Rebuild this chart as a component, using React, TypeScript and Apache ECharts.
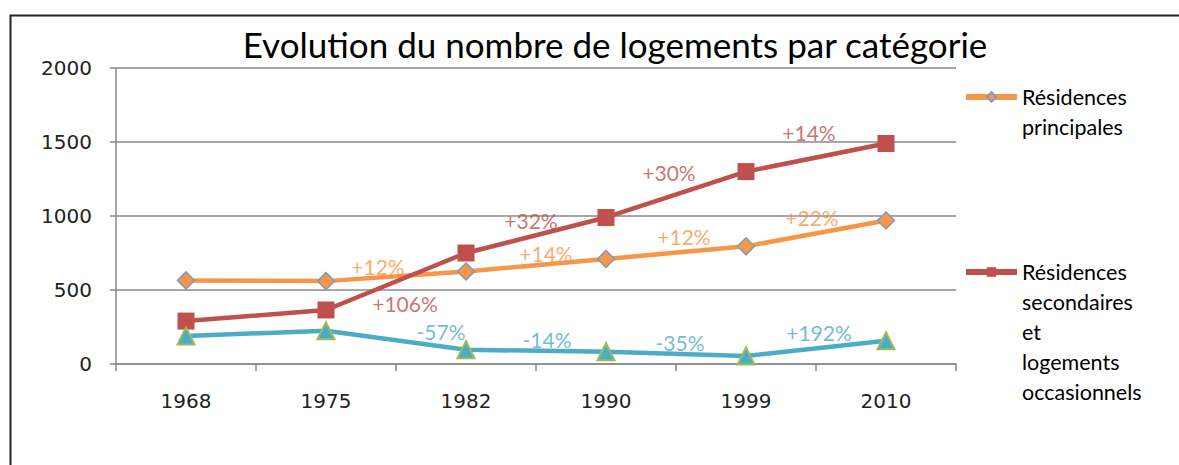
import React, { useEffect, useRef } from "react";
import * as echarts from "echarts";

const years = ["1968", "1975", "1982", "1990", "1999", "2010"];
const principales = [565, 560, 625, 710, 795, 970];
const secondaires = [290, 365, 750, 990, 1300, 1490];
const vacants = [190, 224, 96, 83, 54, 157];
// variation between year i and year i+1 (index 0 : 1968→1975, not shown)
const pctPrincipales = ["", "+12%", "+14%", "+12%", "+22%"];
const pctSecondaires = ["", "+106%", "+32%", "+30%", "+14%"];
const pctVacants = ["", "-57%", "-14%", "-35%", "+192%"];
const yTicks = [0, 500, 1000, 1500, 2000];

const ORANGE = "#F79646";
const RED = "#C0504D";
const BLUE = "#4BACC6";
const GRID = "#8A8A8A";
const FONT = "Lato, 'Open Sans', sans-serif";
const AXFONT = "'DejaVu Sans', sans-serif";

// label offsets (pixels) relative to segment midpoints
const offP = [null, [-18, -10], [10, -12], [8, -16], [-4, -16]];
const offS = [null, [9, 22], [-5, -15], [-7, -22], [-7, -25]];
const offV = [null, [45, -9], [11, -11], [4, -11], [3, -16]];

function labelData(values: number[], pct: string[], off: any[]) {
  const out: any[] = [];
  pct.forEach((t, i) => {
    if (!t) return;
    out.push({
      value: [i + 0.5, (values[i] + values[i + 1]) / 2],
      label: { formatter: t, offset: off[i] },
    });
  });
  return out;
}

function labelSeries(name: string, values: number[], pct: string[], off: any[], color: string) {
  return {
    name,
    type: "scatter",
    xAxisIndex: 1,
    yAxisIndex: 0,
    symbolSize: 0,
    silent: true,
    z: 10,
    label: {
      show: true,
      position: "inside",
      color,
      fontFamily: FONT,
      fontSize: 21,
    },
    data: labelData(values, pct, off),
  };
}

// first line of a multi-line legend text aligned with the icon
function legendText(lines: string[]) {
  return new Array(lines.length - 1).fill("").concat(lines).join("\n");
}

export default function App() {
  const ref = useRef<HTMLDivElement>(null);
  useEffect(() => {
    if (!ref.current) return;
    const chart = echarts.init(ref.current, null, { renderer: "svg" });
    const legendCommon = {
      left: 963,
      orient: "vertical",
      padding: 0,
      itemWidth: 51,
      itemHeight: 12,
      itemGap: 5,
      lineStyle: { width: 6 },
      textStyle: { fontFamily: FONT, fontSize: 21.5, lineHeight: 30, color: "#000" },
    };
    chart.setOption({
      animation: false,
      backgroundColor: "#fff",
      title: {
        text: "Evolution du nombre de logements par catégorie",
        left: 610,
        textAlign: "center",
        top: 21,
        textStyle: { fontFamily: FONT, fontSize: 35, fontWeight: "normal", color: "#000" },
      },
      graphic: [
        {
          type: "rect",
          left: 8,
          top: 13,
          shape: { width: 1300, height: 600 },
          style: { fill: "none", stroke: "#222", lineWidth: 2 },
          silent: true,
        },
      ],
      legend: [
        {
          ...legendCommon,
          data: ["Résidences principales"],
          top: 52,
          formatter: () => legendText(["Résidences", "principales"]),
        },
        {
          ...legendCommon,
          data: ["Résidences secondaires et logements occasionnels"],
          top: 137,
          formatter: () =>
            legendText(["Résidences", "secondaires", "et", "logements", "occasionnels"]),
        },
      ],
      grid: { left: 116, right: 223, top: 68, bottom: 101, containLabel: false },
      xAxis: [
        {
          type: "category",
          data: years,
          boundaryGap: true,
          axisLine: { show: true, lineStyle: { color: GRID, width: 1.5 } },
          axisTick: { show: true, length: 7, lineStyle: { color: GRID, width: 1.5 } },
          axisLabel: { margin: 27, fontFamily: AXFONT, fontSize: 20, color: "#222" },
          splitLine: { show: false },
        },
        {
          type: "value",
          min: -0.5,
          max: 5.5,
          show: false,
        },
      ],
      yAxis: {
        type: "value",
        min: yTicks[0],
        max: yTicks[yTicks.length - 1],
        interval: 500,
        axisLine: { show: true, onZero: false, lineStyle: { color: GRID, width: 1.5 } },
        axisTick: { show: true, length: 6, lineStyle: { color: GRID, width: 1.5 } },
        axisLabel: {
          margin: 24,
          fontFamily: AXFONT,
          fontSize: 20,
          color: "#222",
          formatter: (v: number) => String(v),
        },
        splitLine: { show: true, lineStyle: { color: GRID, width: 1.5 } },
      },
      series: [
        {
          name: "Résidences principales",
          type: "line",
          data: principales,
          lineStyle: { color: ORANGE, width: 4.5 },
          itemStyle: { color: ORANGE, borderColor: "#7F9BBE", borderWidth: 1.5 },
          symbol: "diamond",
          symbolSize: 17,
          z: 2,
        },
        {
          name: "Résidences secondaires et logements occasionnels",
          type: "line",
          data: secondaires,
          lineStyle: { color: RED, width: 4.5 },
          itemStyle: { color: RED },
          symbol: "rect",
          symbolSize: 17,
          z: 3,
        },
        {
          name: "Logements vacants",
          type: "line",
          data: vacants,
          lineStyle: { color: BLUE, width: 4.5 },
          itemStyle: { color: BLUE, borderColor: "#9BBB59", borderWidth: 2 },
          symbol: "triangle",
          symbolSize: 17,
          z: 4,
        },
        labelSeries("lblP", principales, pctPrincipales, offP, ORANGE),
        labelSeries("lblS", secondaires, pctSecondaires, offS, RED),
        labelSeries("lblV", vacants, pctVacants, offV, BLUE),
      ],
    });
    return () => chart.dispose();
  }, []);
  return (
    <div
      ref={ref}
      style={{ position: "absolute", left: 0, top: 0, width: 1179, height: 465 }}
    />
  );
}
